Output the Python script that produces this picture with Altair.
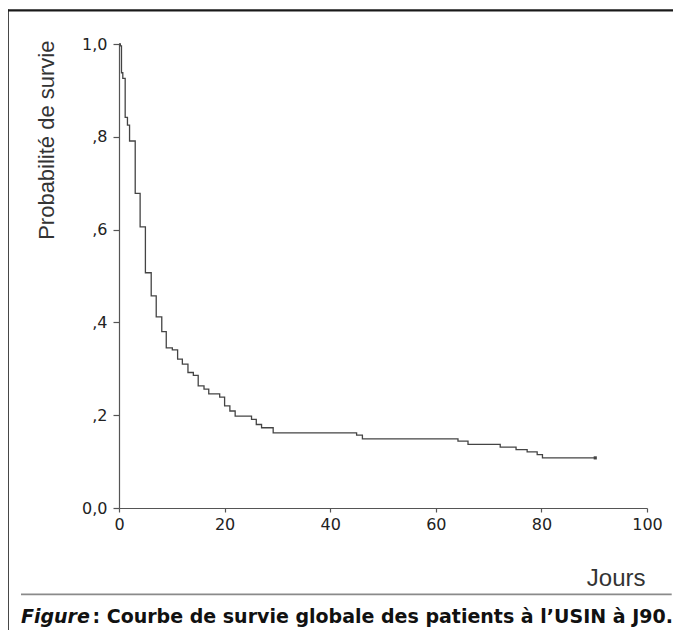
import altair as alt
import pandas as pd

# Kaplan-Meier survival curve values
jours = [0, 0.25, 0.47, 0.72, 1.17, 1.6, 2.0, 3.07, 4.0, 5.0, 6.1, 7.05, 8.1, 8.95,
         10.1, 11.1, 12.0, 13.06, 14.08, 15.0, 16.1, 17.0, 19.07, 20.0, 21.0, 22.0,
         25.1, 26.0, 27.0, 29.2, 45.0, 46.1, 64.2, 66.1, 72.2, 75.2, 77.3, 79.2,
         80.2, 90.2]
survie = [1.0, 0.996, 0.938, 0.926, 0.842, 0.825, 0.791, 0.678, 0.606, 0.507, 0.457,
          0.412, 0.380, 0.345, 0.341, 0.321, 0.310, 0.292, 0.286, 0.263, 0.256, 0.246,
          0.239, 0.220, 0.209, 0.198, 0.191, 0.180, 0.173, 0.162, 0.157, 0.149, 0.144,
          0.137, 0.131, 0.126, 0.121, 0.115, 0.108, 0.108]

x_ticks = [0, 20, 40, 60, 80, 100]
y_ticks = [0, 0.2, 0.4, 0.6, 0.8, 1.0]
y_tick_labels = ["0,0", ",2", ",4", ",6", ",8", "1,0"]

x_title = "Jours"
y_title = "Probabilité de survie"
caption_italic = "Figure"
caption_rest = "\u00a0: Courbe de survie globale des patients à l\u2019USIN à J90."

df = pd.DataFrame({"jours": jours, "survie": survie})
last = df.tail(1)
one = pd.DataFrame({"a": [0]})

W, H = 528, 464
TOTAL_W, TOTAL_H = 665, 622

label_expr = "[" + ",".join("'" + s + "'" for s in y_tick_labels) + "][round(datum.value*5)]"

x_enc = alt.X(
    "jours:Q",
    scale=alt.Scale(domain=[0, 100], nice=False),
    axis=alt.Axis(
        values=x_ticks, format="d", title=x_title, grid=False,
        domainColor="#555", domainWidth=1.2, tickColor="#555", tickWidth=1.2, tickSize=4,
        labelFont="DejaVu Sans", labelFontSize=16, labelColor="#222", labelPadding=4,
        labelFlush=False,
        titleFont="Liberation Sans", titleFontSize=24, titleFontWeight="normal",
        titleColor="#333", titleAlign="right", titleBaseline="alphabetic",
        titleX=526, titleY=77, titleAnchor="end",
    ),
)
y_enc = alt.Y(
    "survie:Q",
    scale=alt.Scale(domain=[0, 1], nice=False),
    axis=alt.Axis(
        values=y_ticks, labelExpr=label_expr, title=y_title, grid=False,
        domainColor="#555", domainWidth=1.2, tickColor="#555", tickWidth=1.2, tickSize=6,
        labelFont="DejaVu Sans", labelFontSize=16, labelColor="#222", labelPadding=6,
        labelFlush=False,
        titleFont="Liberation Sans", titleFontSize=22, titleFontWeight="normal",
        titleColor="#333", titleAngle=270, titleAlign="right", titleBaseline="alphabetic",
        titleX=-66, titleY=-4,
    ),
)

curve = alt.Chart(df).mark_line(interpolate="step-after", color="#444", strokeWidth=1.3).encode(
    x=x_enc, y=y_enc
)
censor = alt.Chart(last).mark_square(size=10, color="#444", opacity=1).encode(
    x="jours:Q", y="survie:Q"
)

border_left = alt.Chart(one).mark_rule(color="#1a1a1a", strokeWidth=2.2, clip=False).encode(
    x=alt.value(-111.3), y=alt.value(-34.5), y2=alt.value(TOTAL_H - 36)
)
border_top = alt.Chart(one).mark_rule(color="#1a1a1a", strokeWidth=2.2, clip=False).encode(
    x=alt.value(-112.4), x2=alt.value(TOTAL_W - 111), y=alt.value(-33.7)
)
separator = alt.Chart(one).mark_rule(color="#8a8a8a", strokeWidth=1.8, clip=False).encode(
    x=alt.value(-98), x2=alt.value(552.7), y=alt.value(550.3)
)
cap1 = alt.Chart(one).mark_text(
    text=caption_italic, font="DejaVu Sans", fontSize=19, fontWeight="bold", fontStyle="italic",
    align="left", baseline="alphabetic", color="#111", clip=False
).encode(x=alt.value(-98), y=alt.value(579.3))
cap2 = alt.Chart(one).mark_text(
    text=caption_rest, font="DejaVu Sans", fontSize=19, fontWeight="bold",
    align="left", baseline="alphabetic", color="#111", clip=False
).encode(x=alt.value(-98 + 71.5), y=alt.value(579.3))

chart = alt.layer(curve, censor, border_left, border_top, separator, cap1, cap2).properties(
    width=W, height=H,
    background="white",
    autosize=alt.AutoSizeParams(type="none"),
    padding={"left": 111, "top": 36, "right": TOTAL_W - 111 - W, "bottom": TOTAL_H - 36 - H},
).configure_view(stroke="transparent", strokeWidth=0)

chart.save("out.html", embed_options={"renderer": "svg", "actions": False})
